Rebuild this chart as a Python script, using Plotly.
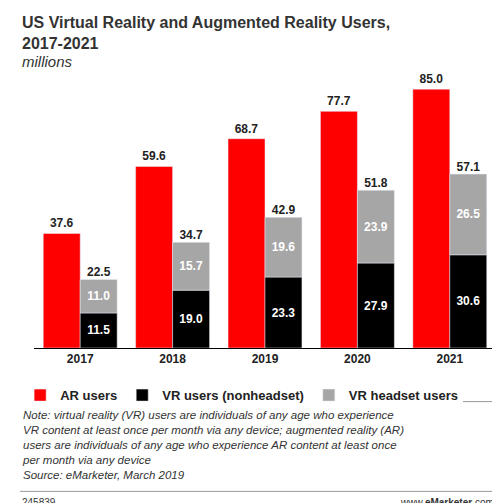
import plotly.graph_objects as go

years = ["2017", "2018", "2019", "2020", "2021"]
ar_users = [37.6, 59.6, 68.7, 77.7, 85.0]
vr_nonheadset = [11.5, 19.0, 23.3, 27.9, 30.6]
vr_headset = [11.0, 15.7, 19.6, 23.9, 26.5]
vr_total = [22.5, 34.7, 42.9, 51.8, 57.1]

idx = list(range(len(years)))
xa = [i - 0.2 for i in idx]
xv = [i + 0.2 for i in idx]
w = 0.4
fnt = "Liberation Sans, Arial, sans-serif"

fig = go.Figure()
fig.add_bar(x=xa, y=ar_users, width=w, marker_color="#ff0000", name="<b>AR users</b>",
            text=[f"<b>{v:.1f}</b>" for v in ar_users], textposition="outside",
            textfont=dict(color="#222", size=12, family=fnt), cliponaxis=False)
fig.add_bar(x=xv, y=vr_nonheadset, width=w, marker_color="#000000", name="<b>VR users (nonheadset)</b>",
            text=[f"<b>{v:.1f}</b>" for v in vr_nonheadset], textposition="inside", insidetextanchor="middle",
            textfont=dict(color="white", size=12, family=fnt))
fig.add_bar(x=xv, y=vr_headset, base=vr_nonheadset, width=w, marker_color="#a6a6a6", name="<b>VR headset users</b>",
            text=[f"<b>{v:.1f}</b>" for v in vr_headset], textposition="inside", insidetextanchor="middle",
            textfont=dict(color="white", size=12, family=fnt))
fig.add_scatter(x=xv, y=vr_total, mode="text", text=[f"<b>{v:.1f}</b>" for v in vr_total],
                textposition="top center", textfont=dict(color="#222", size=12, family=fnt),
                showlegend=False, hoverinfo="skip", cliponaxis=False)

fig.update_layout(
    width=500, height=503, barmode="overlay", plot_bgcolor="white", paper_bgcolor="white",
    margin=dict(l=22, r=12, t=72, b=163), font=dict(family=fnt, color="#222"),
    xaxis=dict(tickmode="array", tickvals=idx, ticktext=[f"<b>{y}</b>" for y in years], range=[-0.5, 4.5],
               showline=True, linecolor="black", linewidth=1, ticks="",
               tickfont=dict(size=12, color="#222"), showgrid=False, zeroline=False),
    yaxis=dict(visible=False, range=[0, 88], showgrid=False),
    legend=dict(orientation="h", x=-0.03, y=-0.12, xanchor="left", yanchor="top",
                font=dict(size=13, color="#222"), traceorder="normal", itemwidth=30),
    showlegend=True,
)
fig.add_annotation(xref="paper", yref="paper", x=-0.03, y=1.255, xanchor="left", yanchor="top",
                   align="left", showarrow=False,
                   text="<b>US Virtual Reality and Augmented Reality Users,<br>2017-2021</b>",
                   font=dict(size=16, color="#333"))
fig.add_annotation(xref="paper", yref="paper", x=-0.03, y=1.11, xanchor="left", yanchor="top",
                   showarrow=False, text="<i>millions</i>", font=dict(size=15, color="#333"))
fig.add_annotation(xref="paper", yref="paper", x=-0.03, y=-0.22, xanchor="left", yanchor="top",
                   align="left", showarrow=False,
                   text=("<i>Note: virtual reality (VR) users are individuals of any age who experience<br>"
                         "VR content at least once per month via any device; augmented reality (AR)<br>"
                         "users are individuals of any age who experience AR content at least once<br>"
                         "per month via any device<br>Source: eMarketer, March 2019</i>"),
                   font=dict(size=11.5, color="#333"))
fig.add_annotation(xref="paper", yref="paper", x=-0.03, y=-0.575, xanchor="left", yanchor="middle",
                   showarrow=False, text="245839", font=dict(size=10, color="#333"))
fig.add_annotation(xref="paper", yref="paper", x=1.0, y=-0.575, xanchor="right", yanchor="middle",
                   showarrow=False, text="www.<b>eMarketer</b>.com", font=dict(size=10, color="#333"))
for yy in [-0.2, -0.535]:
    fig.add_shape(type="line", xref="paper", yref="paper", x0=-0.03, x1=1.0, y0=yy, y1=yy,
                  line=dict(color="#999", width=1))
fig.write_html("out.html")
